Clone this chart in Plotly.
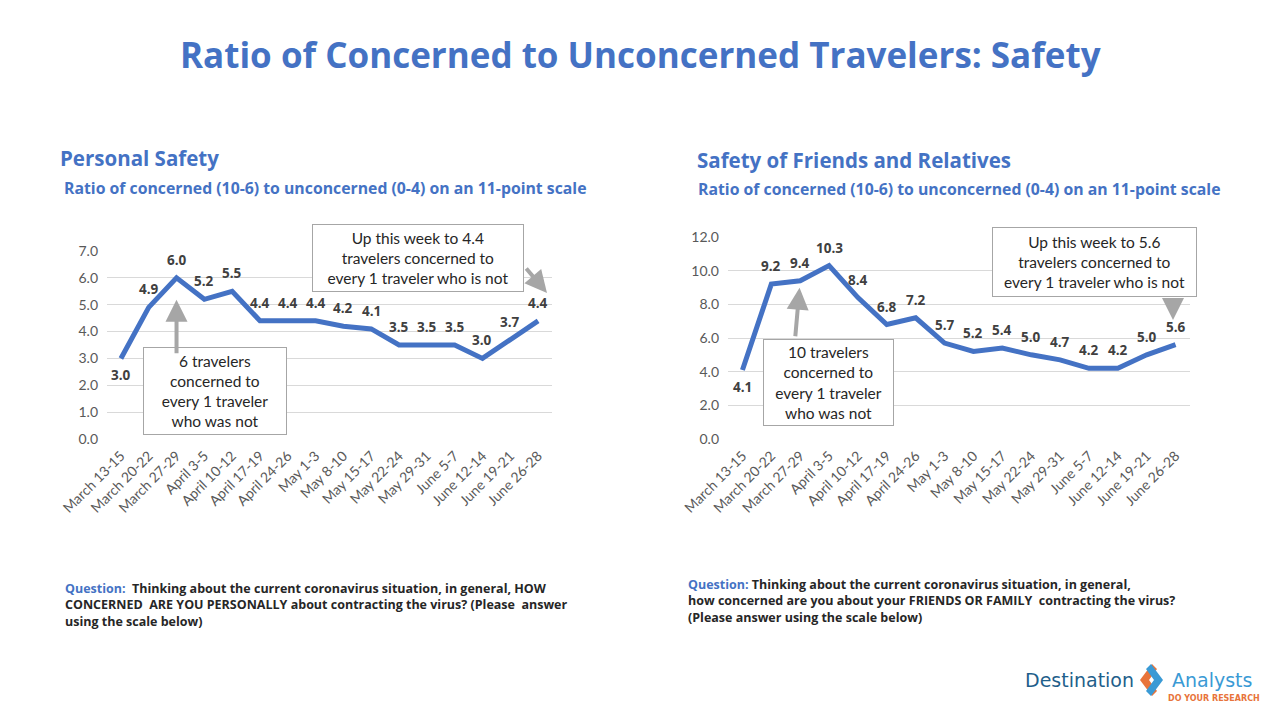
import plotly.graph_objects as go

categories = ["March 13-15", "March 20-22", "March 27-29", "April 3-5", "April 10-12",
              "April 17-19", "April 24-26", "May 1-3", "May 8-10", "May 15-17",
              "May 22-24", "May 29-31", "June 5-7", "June 12-14", "June 19-21", "June 26-28"]
personal = [3.0, 4.9, 6.0, 5.2, 5.5, 4.4, 4.4, 4.4, 4.2, 4.1, 3.5, 3.5, 3.5, 3.0, 3.7, 4.4]
friends = [4.1, 9.2, 9.4, 10.3, 8.4, 6.8, 7.2, 5.7, 5.2, 5.4, 5.0, 4.7, 4.2, 4.2, 5.0, 5.6]
personal_ticks = [0, 1, 2, 3, 4, 5, 6, 7]
friends_ticks = [0, 2, 4, 6, 8, 10, 12]

BLUE = "#4472C4"
W, H = 1280, 720
OX, OY = 8, 8  # page body margin compensation
HEAD = "Open Sans"
BODY = "Lato"

def px(x):
    return (x - OX) / W

def py(y):
    return 1 - (y - OY) / H

fig = go.Figure()
fig.add_trace(go.Scatter(x=categories, y=personal, mode="lines",
                         line=dict(color=BLUE, width=5), xaxis="x", yaxis="y",
                         hoverinfo="x+y", showlegend=False))
fig.add_trace(go.Scatter(x=categories, y=friends, mode="lines",
                         line=dict(color=BLUE, width=5), xaxis="x2", yaxis="y2",
                         hoverinfo="x+y", showlegend=False))

annotations = []
# value labels
for i, (c, v) in enumerate(zip(categories, personal)):
    annotations.append(dict(x=c, y=v, xref="x", yref="y", text=f"{v:.1f}", showarrow=False,
                            yshift=(-17 if i == 0 else 18),
                            font=dict(family=HEAD, size=13.5, color="#404040", weight="bold")))
for i, (c, v) in enumerate(zip(categories, friends)):
    annotations.append(dict(x=c, y=v, xref="x2", yref="y2", text=f"{v:.1f}", showarrow=False,
                            yshift=(-17 if i == 0 else 18),
                            font=dict(family=HEAD, size=13.5, color="#404040", weight="bold")))

# boxes
def box(cx, cy, w, h, text):
    return dict(x=px(cx), y=py(cy), xref="paper", yref="paper", text=text, showarrow=False,
                xanchor="center", yanchor="middle", width=w, height=h, align="center",
                bordercolor="#A6A6A6", borderwidth=1, borderpad=0, bgcolor="white",
                font=dict(family=BODY, size=15.5, color="#262626"))

annotations.append(box(215, 391, 142, 86, "6 travelers<br>concerned to<br>every 1 traveler<br>who was not"))
annotations.append(box(418, 258, 210, 66, "Up this week to 4.4<br>travelers concerned to<br>every 1 traveler who is not"))
annotations.append(box(828, 382, 129, 85, "10 travelers<br>concerned to<br>every 1 traveler<br>who was not"))
annotations.append(box(1094, 262, 203, 68, "Up this week to 5.6<br>travelers concerned to<br>every 1 traveler who is not"))

# arrows
arrow_style = dict(showarrow=True, arrowhead=2, arrowsize=1.1, arrowwidth=4,
                   arrowcolor="#A6A6A6", text="")
annotations.append(dict(x=categories[2], y=personal[2], xref="x", yref="y",
                        ax=0, ay=77, standoff=22, **arrow_style))
annotations.append(dict(x=px(547), y=py(293), xref="paper", yref="paper",
                        ax=-22, ay=-26, **arrow_style))
annotations.append(dict(x=categories[2], y=friends[2], xref="x2", yref="y2",
                        ax=-5, ay=57, standoff=7, **arrow_style))
annotations.append(dict(x=px(1173), y=py(320), xref="paper", yref="paper",
                        ax=0, ay=-23, **arrow_style))

# titles
annotations.append(dict(x=px(640), y=py(55), xref="paper", yref="paper", showarrow=False,
                        text="Ratio of Concerned to Unconcerned Travelers: Safety",
                        font=dict(family=HEAD, size=35, color=BLUE, weight="bold"),
                        xanchor="center", yanchor="middle"))
for x0, y0, t in [(58, 158, "Personal Safety"), (695, 160, "Safety of Friends and Relatives")]:
    annotations.append(dict(x=px(x0), y=py(y0), xref="paper", yref="paper", showarrow=False,
                            text=t, xanchor="left", yanchor="middle",
                            font=dict(family=HEAD, size=20.5, color=BLUE, weight="bold")))
for x0, y0 in [(62, 188), (696, 189)]:
    annotations.append(dict(x=px(x0), y=py(y0), xref="paper", yref="paper", showarrow=False,
                            text="Ratio of concerned (10-6) to unconcerned (0-4) on an 11-point scale",
                            xanchor="left", yanchor="middle",
                            font=dict(family=HEAD, size=15.8, color=BLUE, weight="bold")))

q_left = ("<span style='color:#4472C4'>Question:</span>  Thinking about the current coronavirus situation, in general, HOW<br>"
          "CONCERNED  ARE YOU PERSONALLY about contracting the virus? (Please  answer<br>"
          "using the scale below)")
q_right = ("<span style='color:#4472C4'>Question:</span> Thinking about the current coronavirus situation, in general,<br>"
           "how concerned are you about your FRIENDS OR FAMILY  contracting the virus?<br>"
           "(Please answer using the scale below)")
annotations.append(dict(x=px(63), y=py(578), xref="paper", yref="paper", showarrow=False,
                        text=q_left, xanchor="left", yanchor="top", align="left",
                        font=dict(family=HEAD, size=12.5, color="#262626", weight="bold")))
annotations.append(dict(x=px(686), y=py(574), xref="paper", yref="paper", showarrow=False,
                        text=q_right, xanchor="left", yanchor="top", align="left",
                        font=dict(family=HEAD, size=12.5, color="#262626", weight="bold")))

# logo text
annotations.append(dict(x=px(1136), y=py(680), xref="paper", yref="paper", showarrow=False,
                        text="Destination", xanchor="right", yanchor="middle",
                        font=dict(family="DejaVu Sans", size=19, color="#1F5F8B")))
annotations.append(dict(x=px(1170), y=py(680), xref="paper", yref="paper", showarrow=False,
                        text="Analysts", xanchor="left", yanchor="middle",
                        font=dict(family="DejaVu Sans", size=19, color="#3A9AD5")))
annotations.append(dict(x=px(1262), y=py(698), xref="paper", yref="paper", showarrow=False,
                        text="DO YOUR RESEARCH", xanchor="right", yanchor="middle",
                        font=dict(family="DejaVu Sans", size=8, color="#E8743B", weight="bold")))

def path(points):
    return "M " + " L ".join(f"{px(x)},{py(y)}" for x, y in points) + " Z"

shapes = [
    dict(type="path", xref="paper", yref="paper", line=dict(width=0), fillcolor="#E8743B",
         path=path([(1152, 664), (1140, 680), (1152, 696), (1157, 691), (1149, 680), (1157, 669)])),
    dict(type="path", xref="paper", yref="paper", line=dict(width=0), fillcolor="#3A9AD5",
         path=path([(1151, 664), (1163, 680), (1151, 696), (1146, 691), (1154, 680), (1146, 669)])),
]

axis_common = dict(showgrid=False, showline=False, zeroline=False, ticks="", automargin=False,
                   tickangle=-45, ticklabelstandoff=5,
                   tickfont=dict(family=BODY, size=14, color="#595959"),
                   range=[-0.5, 15.5], type="category", fixedrange=True)
yaxis_common = dict(showgrid=True, gridcolor="#D9D9D9", gridwidth=1, zeroline=False,
                    showline=False, tickformat=".1f", ticklabelstandoff=8, automargin=False,
                    tickfont=dict(family=BODY, size=14, color="#595959"), fixedrange=True)

fig.update_layout(
    width=W, height=H, margin=dict(l=0, r=0, t=0, b=0, autoexpand=False),
    paper_bgcolor="white", plot_bgcolor="white",
    xaxis=dict(domain=[px(107), px(552)], anchor="y", **axis_common),
    yaxis=dict(domain=[py(439), py(251)], anchor="x", range=[0, 7],
               tickvals=personal_ticks, **yaxis_common),
    xaxis2=dict(domain=[px(728), px(1190)], anchor="y2", **axis_common),
    yaxis2=dict(domain=[py(439), py(237)], anchor="x2", range=[0, 12],
                tickvals=friends_ticks, **yaxis_common),
    annotations=annotations,
    shapes=shapes,
    showlegend=False,
)

fig.write_html("out.html")
